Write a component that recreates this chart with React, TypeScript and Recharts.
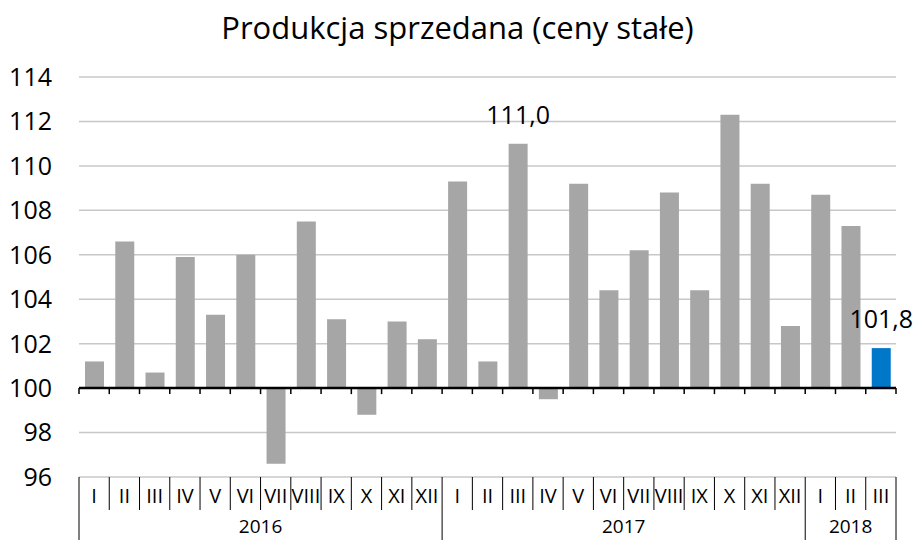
import React from 'react';
import {
  BarChart,
  Bar,
  XAxis,
  YAxis,
  CartesianGrid,
  ReferenceLine,
  LabelList,
  Cell
} from 'recharts';

// miesiące (oś X, dolny wiersz)
const months = [
  'I', 'II', 'III', 'IV', 'V', 'VI', 'VII', 'VIII', 'IX', 'X', 'XI', 'XII',
  'I', 'II', 'III', 'IV', 'V', 'VI', 'VII', 'VIII', 'IX', 'X', 'XI', 'XII',
  'I', 'II', 'III',
];
// lata (oś X, górny wiersz) i liczba miesięcy w każdym
const years = ['2016', '2017', '2018'];
const yearLengths = [12, 12, 3];

// dynamika produkcji sprzedanej, analogiczny okres roku poprzedniego = 100
const values = [
  101.2, 106.6, 100.7, 105.9, 103.3, 106.0, 96.6, 107.5, 103.1, 98.8, 103.0, 102.2,
  109.3, 101.2, 111.0, 99.5, 109.2, 104.4, 106.2, 108.8, 104.4, 112.3, 109.2, 102.8,
  108.7, 107.3, 101.8,
];
const yTicks = [96, 98, 100, 102, 104, 106, 108, 110, 112, 114];
const labelledIdx = [14, 26];
const highlightIdx = 26;

const BASE = 100;
const W = 915;
const H = 540;
const M_TOP = 77;
const M_RIGHT = 19;
const M_BOTTOM = 63;
const Y_W = 79;
const PLOT_W = W - Y_W - M_RIGHT;
const BW = PLOT_W / months.length;
const FONT = '"Open Sans", sans-serif';

const data = months.map((m, i) => ({ key: `${i}`, month: m, value: values[i] }));

const yearStarts: Record<number, number> = {};
let acc = 0;
yearLengths.forEach((n, i) => {
  yearStarts[acc] = i;
  acc += n;
});

const MonthTick = (props: any) => {
  const { x, y, payload } = props;
  const i = payload.index;
  const left = x - BW / 2;
  const yi = yearStarts[i];
  return (
    <g>
      <line x1={left} x2={left} y1={y} y2={yi !== undefined ? y + 63 : y + 33} stroke="#000" strokeWidth={1} />
      {i === months.length - 1 && (
        <line x1={x + BW / 2} x2={x + BW / 2} y1={y} y2={y + 63} stroke="#000" strokeWidth={1} />
      )}
      <text x={x} y={y + 26} textAnchor="middle" fontSize={20} fontFamily={FONT} fill="#000">
        {months[i]}
      </text>
      {yi !== undefined && (
        <text x={left + (yearLengths[yi] * BW) / 2} y={y + 56} textAnchor="middle" fontSize={19} fontFamily={FONT} fill="#000">
          {years[yi]}
        </text>
      )}
    </g>
  );
};

const BaseLine = (props: any) => {
  const { x1, x2, y1 } = props;
  const step = (x2 - x1) / months.length;
  return (
    <g>
      <line x1={x1} x2={x2} y1={y1} y2={y1} stroke="#000" strokeWidth={2.5} />
      {months.concat(['']).map((_, i) => (
        <line key={i} x1={x1 + i * step} x2={x1 + i * step} y1={y1} y2={y1 + 6} stroke="#000" strokeWidth={1.5} />
      ))}
    </g>
  );
};

const ValueLabel = (props: any) => {
  const { x, y, width, index } = props;
  if (!labelledIdx.includes(index)) return null;
  return (
    <text x={x + width / 2} y={y - 20} textAnchor="middle" fontSize={25} fontFamily={FONT} fill="#000">
      {values[index].toFixed(1).replace('.', ',')}
    </text>
  );
};

export default function App() {
  return (
    <div style={{ position: 'absolute', left: 0, top: 0, width: W, height: H, background: '#fff', fontFamily: FONT }}>
      <div
        style={{
          position: 'absolute',
          left: 0,
          top: 12,
          width: W,
          textAlign: 'center',
          fontSize: 31,
          lineHeight: '31px',
          color: '#000',
        }}
      >
        Produkcja sprzedana (ceny stałe)
      </div>
      <BarChart
        width={W}
        height={H}
        data={data}
        margin={{ top: M_TOP, right: M_RIGHT, bottom: 0, left: 0 }}
        barSize={19}
      >
        <CartesianGrid vertical={false} stroke="#c8c8c8" strokeWidth={1.5} />
        <XAxis
          dataKey="key"
          height={M_BOTTOM}
          axisLine={false}
          tickLine={false}
          tickSize={0}
          tickMargin={0}
          interval={0}
          tick={<MonthTick />}
        />
        <YAxis
          width={Y_W}
          domain={[96, 114]}
          ticks={yTicks}
          axisLine={false}
          tickLine={false}
          tickSize={0}
          tickMargin={27}
          tick={{ fill: '#000', fontSize: 25, fontFamily: FONT }}
        />
        <Bar
          dataKey={(d: any) => [Math.min(BASE, d.value), Math.max(BASE, d.value)]}
          fill="#a6a6a6"
          isAnimationActive={false}
        >
          {data.map((_, i) => (
            <Cell key={i} fill={i === highlightIdx ? '#0077c8' : '#a6a6a6'} />
          ))}
          <LabelList content={<ValueLabel />} />
        </Bar>
        <ReferenceLine y={BASE} shape={<BaseLine />} />
      </BarChart>
    </div>
  );
}
